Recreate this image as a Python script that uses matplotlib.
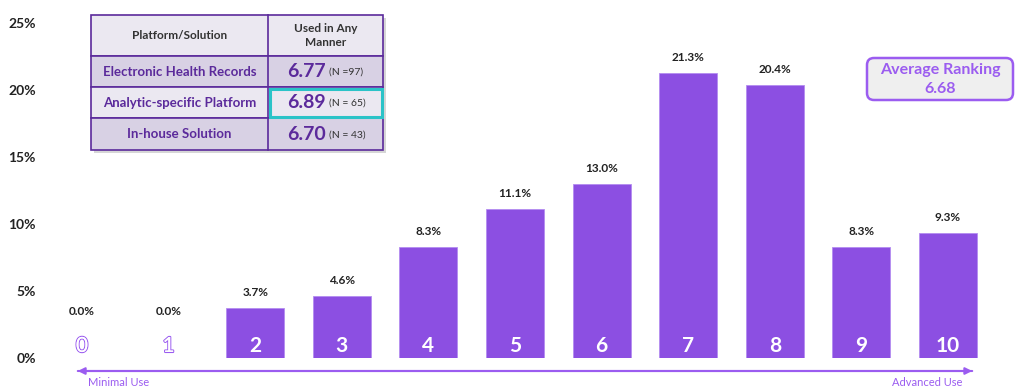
import matplotlib.pyplot as plt
import matplotlib.patheffects as pe
from matplotlib.patches import Rectangle, FancyBboxPatch

plt.rcParams['font.family'] = ['Lato', 'DejaVu Sans']

# data
rankings = ['0', '1', '2', '3', '4', '5', '6', '7', '8', '9', '10']
shares = [0.0, 0.0, 3.7, 4.6, 8.3, 11.1, 13.0, 21.3, 20.4, 8.3, 9.3]
y_ticks = [0, 5, 10, 15, 20, 25]

table_header = ['Platform/Solution', 'Used in Any\nManner']
platforms = ['Electronic Health Records', 'Analytic-specific Platform', 'In-house Solution']
platform_scores = ['6.77', '6.89', '6.70']
platform_n = ['(N =97)', '(N = 65)', '(N = 43)']
avg_ranking = 6.68

bar_color = '#8c4fe2'
dark_purple = '#5b2a9b'
light_purple = '#9b5cf0'

fig = plt.figure(figsize=(10.24, 3.92), dpi=100)
ax = fig.add_axes([38.7 / 1024, 34 / 392, (991.3 - 38.7) / 1024, 335 / 392])

x = range(len(rankings))
bars = ax.bar(x, shares, width=0.67, color=bar_color, edgecolor='#b48cf0', linewidth=0.6)
ax.set_xlim(-0.5, len(rankings) - 0.5)
ax.set_ylim(0, 25)
ax.set_yticks(y_ticks)
ax.set_yticklabels([f'{t}%' for t in y_ticks])
ax.set_xticks([])
ax.tick_params(axis='y', length=0, labelsize=10, pad=2)
for lbl in ax.get_yticklabels():
    lbl.set_fontweight('bold')
    lbl.set_color('#222222')
for s in ax.spines.values():
    s.set_visible(False)

for i, v in enumerate(shares):
    # empty bars get their label lifted above the outlined category number
    ax.text(i, max(v, 2.3) + 0.75, f'{v:.1f}%', ha='center', va='bottom', fontsize=8.5,
            fontweight='bold', color='#222222')
    if v > 0:
        ax.text(i, 0.9, rankings[i], ha='center', va='center', fontsize=15,
                fontweight='bold', color='white')
    else:
        t = ax.text(i, 0.9, rankings[i], ha='center', va='center', fontsize=15,
                    color='white')
        t.set_path_effects([pe.withStroke(linewidth=1.6, foreground=light_purple), pe.Normal()])

# overlay in pixel coordinates for arrow, labels, table and box
ov = fig.add_axes([0, 0, 1, 1], zorder=5)
ov.set_xlim(0, 1024)
ov.set_ylim(392, 0)
ov.axis('off')

ov.annotate('', xy=(75, 371), xytext=(975, 371),
            arrowprops=dict(arrowstyle='-|>', color=light_purple, lw=1.5, mutation_scale=10))
ov.annotate('', xy=(975, 371), xytext=(75, 371),
            arrowprops=dict(arrowstyle='-|>', color=light_purple, lw=1.5, mutation_scale=10))
ov.text(88, 383, 'Minimal Use', color=light_purple, fontsize=8, ha='left', va='center')
ov.text(962, 383, 'Advanced Use', color=light_purple, fontsize=8, ha='right', va='center')

# table
tx0, tx1, tmid = 91, 383, 268
row_y = [15, 56, 87, 118, 150]
row_fill = ['#ebe8f1', '#d8d1e4', '#ebe8f1', '#d8d1e4']
ov.add_patch(Rectangle((tx0 + 3, row_y[0] + 3), tx1 - tx0, row_y[-1] - row_y[0],
                       facecolor='#bbbbbb', edgecolor='none', alpha=0.6))
for r in range(4):
    ov.add_patch(Rectangle((tx0, row_y[r]), tx1 - tx0, row_y[r + 1] - row_y[r],
                           facecolor=row_fill[r], edgecolor=dark_purple, lw=1.2))
ov.plot([tmid, tmid], [row_y[0], row_y[-1]], color=dark_purple, lw=1.2)
ov.add_patch(Rectangle((tmid + 1.5, row_y[2] + 1.5), tx1 - tmid - 3, row_y[3] - row_y[2] - 3,
                       facecolor='none', edgecolor='#2bc3c8', lw=2.2))

ov.text((tx0 + tmid) / 2, (row_y[0] + row_y[1]) / 2, table_header[0], ha='center', va='center',
        fontsize=8.5, fontweight='bold', color='#333333')
ov.text((tmid + tx1) / 2, (row_y[0] + row_y[1]) / 2, table_header[1], ha='center', va='center',
        fontsize=8.5, fontweight='bold', color='#333333', linespacing=1.3)
for r in range(3):
    yc = (row_y[r + 1] + row_y[r + 2]) / 2
    ov.text((tx0 + tmid) / 2, yc, platforms[r], ha='center', va='center',
            fontsize=9.5, fontweight='bold', color=dark_purple)
    ov.text(326, yc, platform_scores[r], ha='right', va='center',
            fontsize=14, fontweight='bold', color=dark_purple)
    ov.text(329, yc + 1, platform_n[r], ha='left', va='center', fontsize=7.5, color='#333333')

# average ranking box
ov.add_patch(FancyBboxPatch((867, 58), 146, 42, boxstyle='round,pad=0,rounding_size=7',
                            facecolor='#efefef', edgecolor=light_purple, lw=1.8))
ov.text(940, 70, 'Average Ranking', ha='center', va='center', fontsize=11.5,
        fontweight='bold', color=light_purple)
ov.text(940, 89, f'{avg_ranking:.2f}', ha='center', va='center', fontsize=11.5,
        fontweight='bold', color=light_purple)

fig.savefig('out.png', dpi=100)
